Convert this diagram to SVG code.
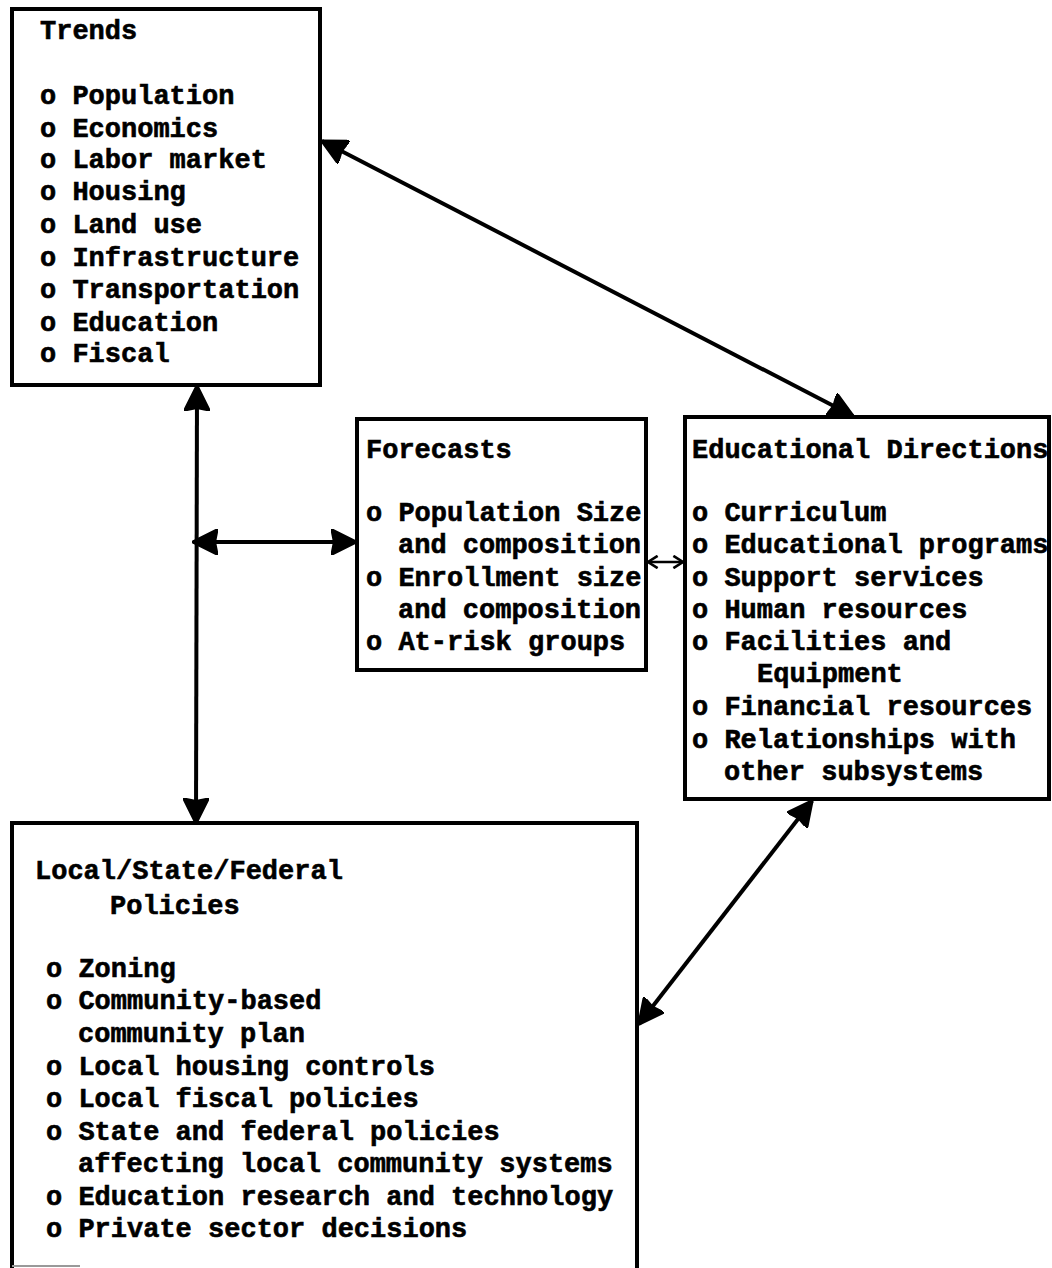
<svg xmlns="http://www.w3.org/2000/svg" width="1052" height="1268" viewBox="0 0 1052 1268">
<style>
.box{fill:none;stroke:#000;stroke-width:4;stroke-linejoin:miter}
.t{font-family:"Liberation Mono","Courier New",monospace;font-weight:bold;font-size:27px;fill:#000;stroke:#000;stroke-width:0.6}
.c{stroke:#000;stroke-width:4;fill:none}
.cs{stroke:#000;stroke-width:2.5;fill:none}
</style>
<defs>
<marker id="ah" viewBox="0 0 20 20" refX="19" refY="10" markerWidth="26" markerHeight="26" markerUnits="userSpaceOnUse" orient="auto-start-reverse">
<path d="M0,0 L20,10 L0,20 L2,10 z" fill="#000" stroke="#000" stroke-width="1.5" stroke-linejoin="round"/>
</marker>
<marker id="oh" viewBox="0 0 16 16" refX="14" refY="8" markerWidth="14" markerHeight="14" markerUnits="userSpaceOnUse" orient="auto-start-reverse">
<path d="M3,1 L14,8 L3,15" fill="none" stroke="#000" stroke-width="3"/>
</marker>
</defs>
<rect width="1052" height="1268" fill="#fff"/>

<g id="trends">
<rect class="box" x="12" y="9" width="308" height="376"/>
<text class="t" x="40" y="39">Trends</text>
<text class="t" x="40" y="104">o Population</text>
<text class="t" x="40" y="137">o Economics</text>
<text class="t" x="40" y="168">o Labor market</text>
<text class="t" x="40" y="200">o Housing</text>
<text class="t" x="40" y="233">o Land use</text>
<text class="t" x="40" y="266">o Infrastructure</text>
<text class="t" x="40" y="298">o Transportation</text>
<text class="t" x="40" y="331">o Education</text>
<text class="t" x="40" y="362">o Fiscal</text>
</g>

<g id="forecasts">
<rect class="box" x="357" y="419" width="289" height="251"/>
<text class="t" x="366" y="458">Forecasts</text>
<text class="t" x="366" y="521">o Population Size</text>
<text class="t" x="398" y="553">and composition</text>
<text class="t" x="366" y="586">o Enrollment size</text>
<text class="t" x="398" y="618">and composition</text>
<text class="t" x="366" y="650">o At-risk groups</text>
</g>

<g id="educational-directions">
<rect class="box" x="685" y="417" width="364" height="382"/>
<text class="t" x="692" y="458">Educational Directions</text>
<text class="t" x="692" y="521">o Curriculum</text>
<text class="t" x="692" y="553">o Educational programs</text>
<text class="t" x="692" y="586">o Support services</text>
<text class="t" x="692" y="618">o Human resources</text>
<text class="t" x="692" y="650">o Facilities and</text>
<text class="t" x="757" y="682">Equipment</text>
<text class="t" x="692" y="715">o Financial resources</text>
<text class="t" x="692" y="748">o Relationships with</text>
<text class="t" x="724" y="780">other subsystems</text>
</g>

<g id="policies">
<path class="box" d="M12,1275 V823 H637 V1275"/>
<line x1="12" y1="1266" x2="80" y2="1266" stroke="#999" stroke-width="2"/>
<text class="t" x="35" y="879">Local/State/Federal</text>
<text class="t" x="110" y="914">Policies</text>
<text class="t" x="46" y="977">o Zoning</text>
<text class="t" x="46" y="1009">o Community-based</text>
<text class="t" x="78" y="1042">community plan</text>
<text class="t" x="46" y="1075">o Local housing controls</text>
<text class="t" x="46" y="1107">o Local fiscal policies</text>
<text class="t" x="46" y="1140">o State and federal policies</text>
<text class="t" x="78" y="1172">affecting local community systems</text>
<text class="t" x="46" y="1205">o Education research and technology</text>
<text class="t" x="46" y="1237">o Private sector decisions</text>
</g>

<g id="connectors">
<line class="c" x1="322" y1="141" x2="853" y2="416" marker-start="url(#ah)" marker-end="url(#ah)"/>
<line class="c" x1="197" y1="386" x2="196" y2="823" marker-start="url(#ah)" marker-end="url(#ah)"/>
<line class="c" x1="193" y1="542" x2="356" y2="542" marker-start="url(#ah)" marker-end="url(#ah)"/>
<line class="cs" x1="648" y1="562" x2="683" y2="562" marker-start="url(#oh)" marker-end="url(#oh)"/>
<line class="c" x1="812" y1="801" x2="639" y2="1024" marker-start="url(#ah)" marker-end="url(#ah)"/>
</g>
</svg>
